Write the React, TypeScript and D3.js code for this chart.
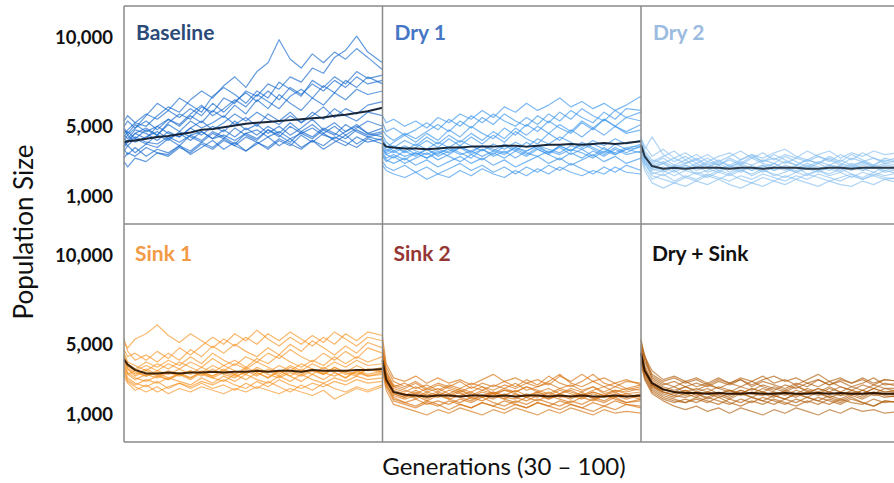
import * as d3 from 'd3';

// generations sampled along the x axis
const generations = [30, 31, 33, 36, 39, 42, 45, 48, 51, 54, 57, 60, 63, 66, 69, 72, 75, 78, 81, 84, 87, 90, 93, 96, 100];

const yTicks = [10000, 5000, 1000];

const baselineMean = [4100, 4150, 4200, 4300, 4400, 4450, 4550, 4650, 4800, 4850, 4950, 5050, 5150, 5200, 5250, 5300, 5350, 5400, 5450, 5500, 5600, 5650, 5750, 5850, 6050];
const baselineRuns = [
  [4600, 4800, 5200, 5000, 5600, 6100, 5800, 6500, 7000, 6600, 7300, 7800, 7200, 8100, 8600, 9900, 8800, 8300, 9100, 8600, 9200, 8800, 9400, 8900, 8200],
  [4300, 4100, 4600, 4900, 4500, 5200, 5700, 5400, 6100, 5800, 6600, 6300, 7000, 6700, 7400, 7100, 7800, 7500, 8300, 8000, 8900, 9300, 10100, 9200, 8600],
  [5000, 5300, 4900, 5600, 6300, 5900, 6600, 6200, 5800, 6700, 7200, 6800, 6300, 7000, 6600, 7500, 7100, 6700, 7600, 7200, 7800, 7400, 8100, 7700, 7900],
  [3900, 4200, 4600, 4300, 5000, 5400, 5100, 5700, 6200, 5600, 6000, 6500, 6100, 6800, 6400, 6000, 6700, 7100, 6600, 7300, 6900, 7600, 7200, 7800, 7400],
  [4800, 4500, 4900, 5300, 4800, 5400, 5000, 5600, 5200, 5900, 5500, 6200, 5700, 6500, 6000, 6800, 6300, 5900, 6600, 6200, 6900, 6500, 7100, 6800, 7000],
  [4400, 4700, 4300, 4800, 4500, 5100, 4700, 5300, 4900, 5200, 5600, 5100, 5500, 5000, 5700, 5300, 5800, 5200, 5600, 6100, 5500, 6000, 5700, 6200, 6400],
  [4100, 3900, 4300, 4000, 4500, 4200, 4700, 4400, 4100, 4600, 4300, 4900, 4500, 4200, 4800, 4400, 5000, 4600, 4300, 4800, 4500, 5100, 4700, 4400, 4600],
  [3600, 3900, 3500, 4000, 3800, 4300, 3900, 4500, 4200, 4700, 4400, 4000, 4600, 4300, 4800, 4500, 4100, 4700, 4400, 4900, 4600, 4300, 4800, 4500, 4700],
  [3200, 3500, 3300, 3800, 3500, 3400, 3900, 3600, 4100, 3800, 4300, 3900, 4400, 4100, 3700, 4200, 3900, 4500, 4100, 4600, 4200, 3900, 4400, 4100, 4300],
  [4900, 4600, 5100, 4700, 5000, 4600, 4400, 4900, 4500, 5000, 4700, 5300, 4800, 5100, 4600, 5000, 4500, 4900, 5400, 4800, 5200, 4700, 5100, 4600, 4900],
  [3700, 3400, 3800, 3300, 3700, 3500, 3900, 3400, 3800, 4200, 3700, 4100, 3600, 4000, 4400, 3900, 4300, 3800, 4200, 3700, 4100, 4500, 4000, 4400, 4200],
  [3000, 2700, 3200, 3000, 3500, 3300, 3800, 3500, 4000, 3700, 4200, 3900, 3600, 4100, 3800, 4300, 4000, 3700, 4200, 3900, 4400, 4100, 3800, 4300, 4000],
  [4500, 4300, 4800, 4600, 4200, 4700, 4400, 4900, 5300, 4800, 5200, 5700, 5300, 5800, 5400, 5100, 5600, 5200, 5800, 5400, 6000, 5600, 5300, 5800, 5600],
  [5300, 5600, 5200, 5700, 5400, 5900, 5500, 6000, 5600, 6300, 5800, 6400, 6900, 6400, 7000, 6500, 7200, 6800, 7400, 7000, 7600, 7200, 7800, 7400, 7600],
  [4200, 4500, 4100, 4400, 4700, 4300, 4600, 4200, 4700, 4300, 4800, 4400, 4900, 4500, 5000, 4600, 5200, 4700, 5100, 4600, 5000, 4500, 4900, 5300, 5000],
  [3800, 4100, 4400, 4100, 4000, 4400, 4100, 4500, 4700, 4300, 4500, 4200, 4600, 4800, 4400, 4700, 4300, 4600, 4900, 4500, 4300, 4700, 5000, 4600, 4400],
];

const dry1Mean = [4050, 3850, 3800, 3750, 3750, 3700, 3750, 3800, 3800, 3850, 3850, 3850, 3900, 3900, 3850, 3900, 3950, 3950, 4000, 3950, 4000, 4050, 4000, 4050, 4150];
const dry1Runs = [
  [5600, 5200, 5400, 5000, 5300, 4900, 5500, 5200, 5700, 5400, 5900, 5500, 6100, 5800, 6300, 5900, 6200, 6600, 6100, 6400, 6000, 6300, 5900, 6200, 6700],
  [4800, 4500, 4200, 4600, 4300, 4700, 5100, 4700, 5300, 4900, 5500, 5100, 5700, 5300, 5000, 5600, 5200, 5800, 5400, 6000, 5600, 5300, 5900, 5500, 5800],
  [4200, 3800, 4100, 4500, 4100, 4600, 4200, 4800, 4400, 5000, 4600, 4300, 4900, 4500, 5100, 4700, 5300, 4900, 4600, 5200, 4800, 5400, 5000, 4700, 5100],
  [3900, 3600, 3900, 3500, 3800, 4200, 3800, 4300, 3900, 4400, 4000, 4500, 4100, 4700, 4300, 4000, 4600, 4200, 4800, 4400, 4900, 4500, 5000, 4600, 4800],
  [3600, 3400, 3200, 3600, 3300, 3700, 3400, 3800, 3500, 3200, 3700, 3400, 3900, 3600, 4100, 3700, 3400, 3900, 3600, 4100, 3800, 3500, 4000, 3700, 4000],
  [3300, 3000, 3300, 2900, 3200, 3500, 3100, 3400, 3800, 3400, 3700, 3300, 3600, 3200, 3600, 3900, 3500, 3800, 3400, 3700, 3300, 3800, 3400, 3700, 3500],
  [3000, 2700, 2500, 2800, 2400, 2700, 2300, 2600, 2900, 2500, 2800, 2400, 2700, 2300, 2700, 2400, 2800, 2500, 2900, 2600, 2300, 2700, 2400, 2800, 2500],
  [4000, 3700, 3500, 3800, 3400, 3700, 3300, 3600, 3900, 3500, 3900, 3600, 4000, 3700, 3400, 3800, 3500, 3900, 3600, 4000, 3700, 3400, 3800, 3500, 3900],
  [3500, 3200, 3400, 3100, 3500, 3200, 3600, 3300, 3000, 3400, 3100, 3500, 3200, 3600, 3300, 3700, 3400, 3100, 3500, 3200, 3600, 3300, 3700, 3400, 3600],
  [2800, 2500, 2300, 2100, 2400, 2000, 2300, 2100, 2500, 2200, 2600, 2300, 2100, 2500, 2200, 2600, 2300, 2700, 2400, 2200, 2500, 2300, 2700, 2400, 2300],
  [5200, 4700, 4900, 4500, 4800, 5200, 4800, 5400, 5000, 5600, 5200, 5700, 5300, 5000, 5500, 5100, 5700, 5300, 5900, 5500, 5200, 5800, 5400, 6000, 5900],
  [3700, 3500, 3800, 3600, 4000, 3700, 4100, 3800, 4200, 3900, 3600, 4000, 3700, 4100, 3800, 4300, 4000, 4400, 4100, 3800, 4200, 3900, 4300, 4000, 4200],
  [4500, 4100, 3800, 4200, 3900, 4400, 4000, 4500, 4100, 4600, 4200, 4700, 4300, 4900, 4500, 5000, 4600, 5100, 4700, 5300, 4900, 5400, 5000, 5500, 5300],
  [3400, 3100, 2900, 3200, 2800, 3100, 2700, 3000, 3300, 2900, 3200, 2800, 3100, 2700, 3000, 3300, 2900, 3200, 2800, 3100, 3400, 3000, 3300, 2900, 3200],
  [3800, 3400, 3600, 3300, 3500, 3200, 3500, 3700, 3400, 3600, 3300, 3600, 3400, 3800, 3500, 3300, 3600, 3400, 3700, 3500, 3200, 3600, 3400, 3700, 3800],
  [4300, 3900, 3600, 3900, 3600, 3400, 3700, 3500, 3800, 3600, 3900, 3700, 3500, 3800, 3600, 3900, 3700, 3500, 3900, 3700, 4000, 3700, 3500, 3800, 3900],
];

const dry2Mean = [3950, 3300, 2750, 2600, 2650, 2600, 2650, 2650, 2650, 2600, 2650, 2650, 2600, 2650, 2650, 2650, 2600, 2600, 2650, 2650, 2600, 2650, 2650, 2650, 2650];
const dry2Runs = [
  [4300, 3900, 3300, 3700, 3200, 3500, 3100, 3400, 3000, 3300, 3600, 3200, 3500, 3100, 3400, 3200, 3600, 3300, 3000, 3400, 3100, 3500, 3200, 3000, 3300],
  [4000, 3500, 2900, 3200, 2800, 3100, 2700, 3000, 2800, 3100, 2800, 3200, 2900, 2700, 3000, 2800, 3100, 2900, 3200, 2900, 2700, 3000, 2800, 3100, 2900],
  [3800, 3200, 2600, 2900, 2500, 2800, 2600, 2900, 2500, 2700, 2400, 2800, 2500, 2900, 2600, 2400, 2700, 2500, 2800, 2600, 2900, 2600, 2400, 2700, 2500],
  [3600, 3000, 2400, 2200, 2500, 2100, 2400, 2200, 2500, 2300, 2600, 2200, 2500, 2300, 2100, 2400, 2200, 2500, 2300, 2600, 2300, 2100, 2400, 2200, 2400],
  [3400, 2700, 2000, 2300, 1900, 2200, 2000, 2300, 2100, 1900, 2200, 2000, 2300, 2100, 1900, 2200, 2000, 2300, 2100, 1900, 2200, 2000, 2300, 2100, 2000],
  [4200, 3700, 4400, 3400, 3000, 3300, 2900, 3200, 2800, 3200, 2900, 3300, 3000, 3400, 3100, 2800, 3100, 2900, 3300, 3000, 3400, 3100, 2800, 3200, 3000],
  [3900, 3100, 2500, 2700, 2400, 2700, 2300, 2500, 2800, 2400, 2700, 2500, 2800, 2500, 2700, 2400, 2600, 2900, 2600, 2400, 2700, 2500, 2800, 2600, 2700],
  [3300, 2500, 1800, 1500, 1800, 1600, 1900, 1700, 2000, 1700, 1500, 1800, 1600, 1900, 1700, 2000, 1800, 1600, 1900, 1700, 1600, 1900, 1700, 2000, 1800],
  [3700, 3300, 2800, 3000, 2700, 2900, 3200, 2800, 3100, 2700, 3000, 2800, 3100, 2900, 3300, 3000, 2700, 3000, 2800, 3100, 2800, 3000, 2700, 2900, 2800],
  [4100, 3400, 3000, 3300, 3600, 3100, 3400, 3000, 3300, 3500, 3100, 3400, 3200, 3500, 3700, 3300, 3100, 3400, 3600, 3200, 3500, 3300, 3600, 3400, 3500],
  [3500, 2900, 2300, 2500, 2200, 2500, 2300, 2100, 2400, 2200, 2500, 2300, 2600, 2200, 2400, 2700, 2300, 2500, 2200, 2400, 2100, 2400, 2200, 2500, 2300],
  [3900, 3300, 2700, 2500, 2800, 2600, 2900, 2600, 2400, 2700, 2900, 2600, 2800, 2500, 2800, 2600, 2900, 2700, 2500, 2800, 2600, 2900, 2700, 2500, 2700],
  [3600, 2900, 2200, 2000, 1800, 2100, 1900, 2200, 2000, 2300, 2000, 1800, 2100, 1900, 2200, 2000, 2300, 2100, 1900, 2100, 2300, 2000, 2200, 2000, 2100],
  [4400, 3600, 3100, 2900, 3200, 2900, 3100, 2700, 3000, 2800, 3100, 3400, 3000, 3200, 2900, 3200, 3000, 3300, 3100, 2800, 3200, 3000, 3200, 2900, 3100],
  [3700, 3000, 2600, 2400, 2700, 2500, 2800, 2400, 2600, 2800, 2500, 2700, 2400, 2700, 2500, 2800, 2600, 2400, 2700, 2500, 2800, 2500, 2700, 2400, 2600],
  [4000, 3200, 2700, 2900, 2600, 2800, 2500, 2700, 2900, 2600, 2800, 2500, 2700, 2900, 2600, 2500, 2800, 2600, 2800, 2700, 2500, 2800, 2600, 2800, 2700],
];

const sink1Mean = [4150, 3850, 3550, 3350, 3350, 3400, 3350, 3400, 3400, 3450, 3400, 3450, 3450, 3500, 3450, 3500, 3500, 3450, 3550, 3500, 3500, 3500, 3550, 3550, 3600];
const sink1Runs = [
  [5100, 4800, 5300, 5600, 6100, 5500, 5100, 5600, 5200, 4800, 5300, 4900, 5400, 5000, 5600, 5200, 5700, 5300, 4900, 5400, 5000, 5600, 5200, 5700, 5500],
  [4700, 4300, 4500, 4100, 4600, 4200, 4800, 4400, 4900, 5400, 5000, 5600, 5200, 5800, 5300, 4900, 5400, 5000, 5500, 5100, 5700, 5300, 4900, 5400, 5200],
  [4400, 3900, 3600, 4000, 3700, 4100, 3800, 4300, 3900, 4500, 4100, 3800, 4300, 4000, 4500, 4200, 4700, 4300, 4000, 4500, 4100, 4600, 4200, 4800, 4500],
  [4200, 3700, 3400, 3200, 3500, 3300, 3600, 3300, 3700, 3400, 3800, 3500, 3300, 3700, 3400, 3800, 3500, 3900, 3600, 3300, 3700, 3400, 3800, 3500, 3700],
  [3900, 3400, 3100, 2900, 3200, 3000, 3300, 3000, 3400, 3100, 2900, 3300, 3000, 3400, 3100, 3500, 3200, 2900, 3300, 3000, 3400, 3100, 3500, 3200, 3300],
  [3600, 3100, 2800, 2600, 2900, 2500, 2800, 2600, 2900, 2700, 3000, 2700, 2500, 2900, 2600, 3000, 2700, 2500, 2800, 2600, 2900, 2700, 3000, 2800, 2900],
  [3400, 2900, 2600, 2300, 2600, 2200, 2500, 2300, 2600, 2400, 2200, 2500, 2300, 2600, 2400, 2200, 2500, 2300, 2100, 2400, 1900, 2200, 2500, 2300, 2600],
  [4500, 4000, 3800, 3500, 3900, 3600, 4000, 3700, 3400, 3800, 3500, 3900, 3600, 4000, 3700, 3400, 3800, 3500, 3900, 3600, 4000, 3700, 4100, 3800, 3900],
  [4000, 3600, 3300, 3600, 3300, 3000, 3400, 3100, 3500, 3200, 3600, 3300, 3700, 3400, 3100, 3500, 3200, 3600, 3300, 3700, 3400, 3100, 3500, 3300, 3500],
  [5300, 4600, 4100, 4400, 4000, 4500, 4100, 4700, 4300, 4900, 4500, 5000, 4600, 4300, 4800, 4400, 5000, 4600, 5200, 4800, 4400, 4900, 4500, 5100, 4800],
  [3800, 3300, 3000, 3300, 3100, 3400, 3200, 3500, 3200, 3600, 3300, 3100, 3500, 3200, 3600, 3300, 3700, 3400, 3600, 3300, 3700, 3400, 3200, 3600, 3400],
  [3500, 3000, 2700, 3000, 2800, 3100, 2900, 2700, 3100, 2800, 3200, 2900, 3300, 3000, 2800, 3200, 2900, 3300, 3000, 2800, 3100, 2900, 3200, 3000, 3100],
  [4300, 3800, 3500, 3800, 3500, 3900, 3600, 4000, 3700, 4200, 3800, 4100, 3700, 4200, 3900, 4400, 4000, 3700, 4100, 3800, 4300, 3900, 4300, 4000, 4300],
  [3200, 2800, 2400, 2700, 2300, 2600, 2800, 2500, 2800, 2500, 2700, 2400, 2800, 2500, 2900, 2600, 2300, 2700, 2400, 2800, 2500, 2300, 2600, 2400, 2700],
  [4100, 3600, 3200, 3500, 3200, 3500, 3300, 3100, 3400, 3200, 3500, 3300, 3600, 3300, 3500, 3200, 3500, 3300, 3600, 3400, 3200, 3500, 3300, 3600, 3500],
  [3700, 3300, 3500, 3200, 3400, 3100, 3300, 3500, 3300, 3100, 3400, 3200, 3400, 3600, 3300, 3100, 3400, 3200, 3500, 3300, 3600, 3300, 3400, 3200, 3400],
];

const sink2Mean = [4100, 3000, 2300, 2150, 2100, 2050, 2100, 2100, 2050, 2100, 2100, 2050, 2100, 2050, 2100, 2100, 2050, 2100, 2050, 2100, 2050, 2050, 2100, 2050, 2100];
const sink2Runs = [
  [5400, 3900, 3100, 2900, 3200, 2800, 3100, 2800, 3000, 2700, 3000, 3300, 2900, 3100, 2800, 3000, 2700, 3200, 2900, 3300, 2900, 3100, 2800, 3000, 2700],
  [4800, 3500, 2700, 2500, 2800, 2400, 2700, 2500, 2300, 2600, 2400, 2700, 2500, 2800, 2400, 2600, 2800, 2500, 2700, 2400, 2600, 2300, 2600, 2400, 2600],
  [4400, 3200, 2400, 2200, 2000, 2300, 2100, 2400, 2200, 2000, 2300, 2100, 2400, 2200, 2000, 2300, 2100, 2400, 2200, 2000, 2300, 2100, 2400, 2200, 2300],
  [4100, 2900, 2100, 1900, 2100, 1800, 2100, 1900, 1700, 2000, 1800, 2100, 1900, 1700, 2000, 1800, 2100, 1900, 1700, 2000, 1800, 2100, 1900, 1700, 1900],
  [3700, 2600, 1800, 1600, 1400, 1700, 1500, 1800, 1600, 1400, 1700, 1500, 1800, 1600, 1400, 1700, 1500, 1800, 1600, 1400, 1700, 1500, 1800, 1600, 1500],
  [3500, 2400, 1600, 1400, 1200, 1000, 1300, 1100, 1400, 1200, 1000, 1300, 1100, 1400, 1200, 1000, 1300, 1100, 1400, 1200, 1000, 1300, 1100, 1200, 1100],
  [5000, 3700, 2900, 2600, 2900, 2500, 2800, 2600, 2900, 2500, 2800, 2600, 2900, 2600, 3000, 2700, 3200, 2800, 2600, 2900, 3300, 2800, 2600, 2900, 2800],
  [4600, 3300, 2500, 2300, 2600, 2300, 2500, 2200, 2500, 2300, 2600, 2200, 2400, 2300, 2600, 2300, 2500, 2200, 2500, 2300, 2600, 2200, 2400, 2300, 2500],
  [4200, 3000, 2200, 2000, 2200, 1900, 2200, 2000, 2300, 1900, 2100, 1900, 2200, 2000, 1800, 2100, 1900, 2200, 2000, 2300, 1900, 2100, 2000, 2200, 2000],
  [3900, 2700, 2000, 1700, 1900, 1600, 1800, 1600, 1900, 1700, 2000, 1700, 1500, 1800, 1600, 1900, 1700, 1500, 1800, 1600, 1900, 1700, 2000, 1700, 1800],
  [4500, 3200, 2600, 2800, 2500, 2700, 2400, 2700, 2500, 2800, 2600, 2400, 2700, 2500, 2800, 2600, 2900, 3300, 2800, 2600, 2900, 2600, 2800, 2500, 2700],
  [3800, 2800, 1900, 1700, 1500, 1800, 1600, 1300, 1600, 1400, 1700, 1500, 1300, 1600, 1400, 1700, 1500, 1300, 1600, 1400, 1200, 1500, 1300, 1600, 1400],
  [4300, 3100, 2300, 2100, 2400, 2100, 2300, 2100, 2400, 2200, 2000, 2300, 2100, 2400, 2100, 2300, 2000, 2200, 2400, 2100, 2300, 2100, 2300, 2000, 2200],
  [4700, 3400, 2600, 2400, 2200, 2500, 2300, 2600, 2400, 2100, 2400, 2200, 2500, 2300, 2600, 2400, 2200, 2500, 2300, 2100, 2400, 2600, 2300, 2500, 2400],
  [4000, 2900, 2200, 2000, 2300, 2000, 2200, 1900, 2100, 2300, 2000, 2200, 1900, 2200, 2000, 2200, 1900, 2100, 1900, 2200, 2000, 1800, 2100, 1900, 2100],
  [4500, 3100, 2300, 2200, 1900, 2200, 2000, 2200, 2000, 1800, 2100, 2300, 2000, 1900, 2200, 2000, 2300, 2000, 2100, 1900, 2200, 2000, 2200, 2100, 1900],
];

const drySinkMean = [4500, 3500, 2800, 2450, 2300, 2250, 2250, 2200, 2250, 2200, 2200, 2250, 2200, 2200, 2250, 2200, 2200, 2250, 2200, 2250, 2200, 2200, 2250, 2200, 2200];
const drySinkRuns = [
  [5300, 4300, 3500, 3000, 3200, 2900, 3100, 2800, 3100, 2800, 3000, 2700, 3000, 3200, 2900, 3100, 2800, 3000, 2700, 3000, 2800, 3100, 2800, 3000, 2900],
  [5000, 4400, 3200, 2800, 2600, 2900, 2600, 2800, 2500, 2800, 2600, 2900, 2600, 2400, 2700, 2500, 2800, 2600, 2900, 2600, 2400, 2700, 2500, 2800, 2600],
  [4700, 3800, 2900, 2500, 2300, 2600, 2300, 2500, 2200, 2400, 2200, 2500, 2300, 2100, 2400, 2200, 2500, 2300, 2600, 2300, 2100, 2400, 2200, 2500, 2300],
  [4400, 3500, 2700, 2300, 2100, 2000, 2200, 1900, 2200, 2000, 2300, 2000, 1800, 2100, 1900, 2200, 2000, 2300, 2000, 1800, 2100, 1900, 2200, 2000, 2100],
  [4100, 3200, 2400, 2000, 1800, 1700, 1900, 1700, 2000, 1700, 1500, 1800, 1600, 1900, 1700, 1500, 1800, 1600, 1900, 1700, 2000, 1700, 1500, 1800, 1700],
  [3900, 3000, 2200, 1800, 1500, 1300, 1500, 1200, 1400, 1100, 1400, 1200, 1000, 1300, 1100, 1400, 1200, 1000, 1300, 1100, 1400, 1200, 1300, 1100, 1200],
  [4900, 4000, 3100, 2700, 2900, 2600, 2800, 2600, 2900, 2700, 3000, 2600, 2900, 2700, 2500, 2800, 2600, 3000, 2700, 2900, 2600, 2800, 3100, 2700, 2800],
  [4600, 3700, 2800, 2400, 2600, 2300, 2500, 2300, 2600, 2400, 2200, 2500, 2300, 2600, 2400, 2700, 2300, 2500, 2300, 2600, 2400, 2200, 2500, 2300, 2400],
  [4300, 3400, 2600, 2200, 2000, 2200, 2000, 2300, 2100, 1900, 2200, 2000, 2300, 2100, 1900, 2200, 2000, 1800, 2100, 1900, 2200, 2000, 2300, 2100, 2000],
  [4000, 3100, 2300, 1900, 1700, 1900, 1700, 2000, 1800, 1600, 1900, 1700, 2000, 1800, 1600, 1900, 1700, 2000, 1800, 1600, 1900, 1700, 1500, 1800, 1700],
  [5200, 4100, 3300, 2900, 3100, 2800, 3000, 2700, 3000, 2800, 3100, 2900, 3200, 2800, 3000, 2700, 3000, 3300, 2900, 3100, 2800, 3000, 2700, 3000, 2900],
  [4500, 3600, 2700, 2300, 2100, 2400, 2200, 2000, 2300, 2100, 2400, 2200, 2500, 2300, 2100, 2400, 2200, 2500, 2300, 2100, 2400, 2200, 2500, 2300, 2400],
  [4200, 3300, 2500, 2100, 1900, 1700, 2000, 1800, 1600, 1900, 1700, 2000, 1800, 1600, 1900, 1700, 2000, 1800, 1600, 1900, 1700, 1600, 1900, 1700, 1800],
  [4800, 4300, 3000, 2600, 2400, 2600, 2400, 2700, 2500, 2300, 2600, 2400, 2700, 2500, 2300, 2600, 2400, 2200, 2500, 2300, 2600, 2400, 2700, 2500, 2500],
  [4600, 3500, 2600, 2300, 2200, 2400, 2100, 2300, 2200, 2400, 2100, 2300, 2200, 2000, 2300, 2100, 2300, 2200, 2000, 2200, 2300, 2100, 2300, 2200, 2300],
  [4400, 3400, 2700, 2400, 2300, 2100, 2300, 2200, 2000, 2200, 2400, 2200, 2100, 2300, 2200, 2000, 2300, 2100, 2300, 2100, 2200, 2400, 2100, 2200, 2100],
];

const panels = [
  { title: 'Baseline', titleColor: '#2b4a78', lineColor: '#0f66cc', meanColor: '#18263a', runs: baselineRuns, mean: baselineMean },
  { title: 'Dry 1', titleColor: '#4676c6', lineColor: '#3594ec', meanColor: '#18263a', runs: dry1Runs, mean: dry1Mean },
  { title: 'Dry 2', titleColor: '#9bbbe0', lineColor: '#86bef0', meanColor: '#2a3848', runs: dry2Runs, mean: dry2Mean },
  { title: 'Sink 1', titleColor: '#f29a45', lineColor: '#f6921e', meanColor: '#3d2208', runs: sink1Runs, mean: sink1Mean },
  { title: 'Sink 2', titleColor: '#963634', lineColor: '#d5700c', meanColor: '#3d1e04', runs: sink2Runs, mean: sink2Mean },
  { title: 'Dry + Sink', titleColor: '#111111', lineColor: '#b0600f', meanColor: '#2e1602', runs: drySinkRuns, mean: drySinkMean },
];

const W = 894;
const H = 483;
const left = 124;
const top = 6;
const colW = 258.5;
const rowH = 218;
const font = 'Lato, "Open Sans", sans-serif';

const App = () => {
  const x = d3.scaleLinear().domain([30, 100]).range([0, colW]);
  const y = d3.scaleLinear().domain([-530, 11810]).range([rowH, 0]);
  const line = d3.line<number>()
    .x((_, i) => x(generations[i]))
    .y(d => y(d));

  return (
    <svg width={W} height={H} style={{ position: 'absolute', left: 0, top: 0, background: '#fff' }}>
      {panels.map((p, k) => {
        const col = k % 3;
        const row = Math.floor(k / 3);
        return (
          <g key={p.title} transform={`translate(${left + col * colW},${top + row * rowH})`}>
            {p.runs.map((r, i) => (
              <path key={i} d={line(r) ?? ''} fill="none" stroke={p.lineColor}
                strokeWidth={1.2} strokeOpacity={0.65} strokeLinejoin="round" />
            ))}
            <path d={line(p.mean) ?? ''} fill="none" stroke={p.meanColor} strokeWidth={2} strokeLinejoin="round" />
            <text x={row === 0 ? 12 : 11} y={row === 0 ? 34 : 37} fill={p.titleColor}
              fontFamily={font} fontWeight={700} fontSize={21}>{p.title}</text>
          </g>
        );
      })}

      {[0, 1].map(row => (
        <g key={row} transform={`translate(0,${top + row * rowH})`}>
          {yTicks.map(t => (
            <text key={t} x={113} y={y(t)} dy="0.35em" textAnchor="end"
              fontFamily={font} fontWeight={700} fontSize={18.5} fill="#111">{d3.format(',')(t)}</text>
          ))}
        </g>
      ))}

      {/* grid frame */}
      <g stroke="#8a8a8a" strokeWidth={1.5}>
        {[0, 1, 2].map(i => (
          <line key={'h' + i} x1={left} x2={W} y1={top + i * rowH} y2={top + i * rowH} />
        ))}
        {[0, 1, 2].map(i => (
          <line key={'v' + i} x1={left + i * colW} x2={left + i * colW} y1={top} y2={top + 2 * rowH} />
        ))}
      </g>

      <text transform={`translate(33,${top + rowH + 8}) rotate(-90)`} textAnchor="middle"
        fontFamily={font} fontSize={26} fill="#111">Population Size</text>
      <text x={504} y={475} textAnchor="middle"
        fontFamily={font} fontSize={24} fill="#111">Generations (30 – 100)</text>
    </svg>
  );
};

export default App;
